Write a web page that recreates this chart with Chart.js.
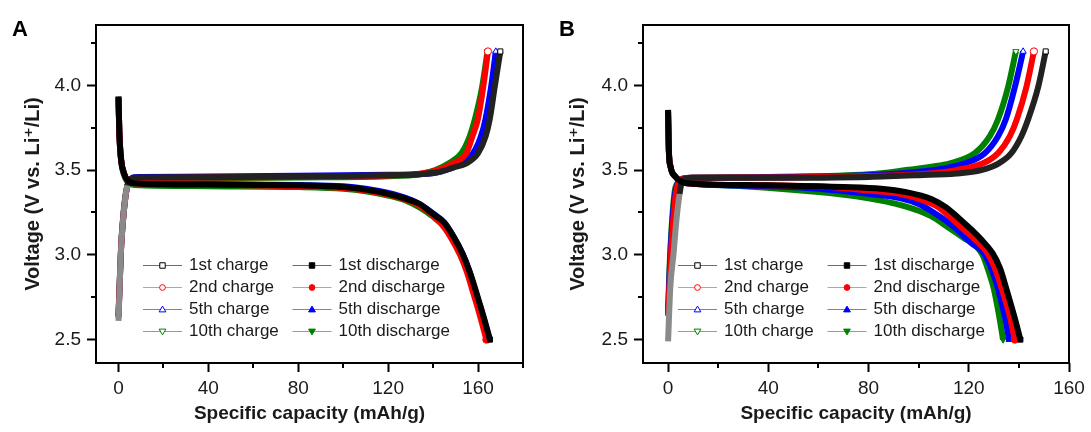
<!DOCTYPE html>
<html>
<head>
<meta charset="utf-8">
<title>Charge / discharge curves</title>
<script src="https://cdn.jsdelivr.net/npm/chart.js@4.4.1/dist/chart.umd.min.js"></script>
<style>
  html, body { margin: 0; padding: 0; background: #fff; }
  #wrap { display: flex; width: 1091px; height: 432px; }
  canvas { display: block; }
</style>
</head>
<body>
<div id="wrap">
  <canvas id="chartA" width="545" height="432"></canvas>
  <canvas id="chartB" width="546" height="432"></canvas>
</div>
<script>
// ---- data: capacity (mAh/g) and voltage (V) ----
const cycleNames = ['1st', '2nd', '5th', '10th']

// panel A
const capA_c1 = [0, 0.5, 1, 2, 3, 4, 5, 7, 10, 40, 80, 100, 120, 134, 143, 149, 154.8, 160, 163.4, 165.2, 167.4, 169.9]
const voltA_c1 = [2.61, 2.8, 3.0, 3.2, 3.33, 3.41, 3.44, 3.455, 3.456, 3.458, 3.462, 3.465, 3.47, 3.475, 3.49, 3.515, 3.54, 3.6, 3.7, 3.8, 3.99, 4.2]
const capA_c2 = [0, 0.6, 1.2, 2, 3, 4, 5, 7, 10, 40, 80, 120, 134, 142, 148.9, 154.8, 157.5, 159.9, 162.3, 164.4]
const voltA_c2 = [2.64, 2.85, 3.05, 3.2, 3.33, 3.41, 3.44, 3.452, 3.454, 3.456, 3.46, 3.468, 3.478, 3.5, 3.54, 3.6, 3.7, 3.8, 3.99, 4.2]
const capA_c5 = [0, 0.6, 1.2, 2, 3, 4, 5, 7, 10, 40, 80, 120, 134, 143, 152.6, 157.8, 161.3, 163.3, 165.8, 167.9]
const voltA_c5 = [2.63, 2.85, 3.05, 3.2, 3.33, 3.41, 3.44, 3.458, 3.46, 3.462, 3.466, 3.472, 3.476, 3.49, 3.54, 3.6, 3.7, 3.8, 3.99, 4.2]
const capA_c10 = [0, 0.6, 1.2, 2, 3, 4, 5, 7, 10, 40, 80, 120, 134, 141, 147, 152.6, 156.3, 158.6, 161.8, 164.2]
const voltA_c10 = [2.64, 2.86, 3.06, 3.21, 3.34, 3.41, 3.435, 3.448, 3.45, 3.452, 3.456, 3.464, 3.476, 3.5, 3.54, 3.6, 3.7, 3.8, 3.99, 4.2]

const capA_d1 = [0, 0.4, 1.2, 2.5, 4, 6, 10, 40, 80, 100, 110, 120, 128, 134, 140, 145, 149, 153, 156, 158.5, 161, 163, 165.3]
const voltA_d1 = [3.935, 3.72, 3.56, 3.48, 3.44, 3.425, 3.42, 3.415, 3.41, 3.4, 3.385, 3.36, 3.33, 3.3, 3.24, 3.19, 3.11, 3.01, 2.91, 2.81, 2.7, 2.61, 2.5]
const capA_d2 = [0, 0.4, 1.2, 2.5, 4, 6, 10, 40, 80, 100, 110, 120, 128, 134, 140, 144.5, 148, 152, 155, 157.3, 159.8, 161.7, 163.7]
const voltA_d2 = [3.93, 3.72, 3.56, 3.48, 3.44, 3.425, 3.42, 3.415, 3.405, 3.395, 3.38, 3.355, 3.325, 3.29, 3.23, 3.17, 3.1, 3.0, 2.9, 2.8, 2.69, 2.6, 2.5]
const capA_d5 = [0, 0.4, 1.2, 2.5, 4, 6, 10, 40, 80, 100, 110, 120, 128, 134, 140, 145, 149, 153, 156, 158.3, 160.8, 162.8, 165]
const voltA_d5 = [3.93, 3.72, 3.56, 3.48, 3.44, 3.428, 3.422, 3.418, 3.412, 3.405, 3.39, 3.365, 3.335, 3.3, 3.245, 3.19, 3.11, 3.01, 2.91, 2.81, 2.7, 2.61, 2.5]
const capA_d10 = [0, 0.4, 1.2, 2.5, 4, 6, 10, 40, 80, 100, 110, 120, 128, 134, 140, 145, 149, 153, 156, 158.5, 161, 163, 164.6]
const voltA_d10 = [3.92, 3.71, 3.55, 3.47, 3.43, 3.415, 3.41, 3.405, 3.4, 3.39, 3.375, 3.35, 3.32, 3.28, 3.225, 3.165, 3.085, 2.99, 2.89, 2.79, 2.68, 2.59, 2.5]

// panel B
const capB_c1 = [0, 0.9, 2.2, 3.3, 4.6, 5.5, 7, 10, 40, 80, 100, 115, 125, 132, 137, 141, 143.7, 147.7, 150.7]
const voltB_c1 = [2.49, 2.81, 3.01, 3.2, 3.36, 3.43, 3.45, 3.455, 3.455, 3.46, 3.47, 3.48, 3.5, 3.54, 3.6, 3.7, 3.8, 3.99, 4.2]
const capB_c2 = [0, 0.8, 1.8, 3, 4, 6, 10, 40, 80, 100, 115, 125.7, 131.7, 136.4, 139.2, 143, 146]
const voltB_c2 = [2.64, 2.9, 3.15, 3.35, 3.42, 3.45, 3.455, 3.456, 3.465, 3.475, 3.5, 3.54, 3.6, 3.7, 3.8, 3.99, 4.2]
const capB_c5 = [0, 0.7, 1.6, 2.8, 3.8, 6, 10, 40, 80, 100, 110, 118.5, 126.4, 131.7, 134.8, 138.4, 141.7]
const voltB_c5 = [2.65, 2.92, 3.17, 3.36, 3.42, 3.45, 3.455, 3.458, 3.47, 3.49, 3.51, 3.54, 3.6, 3.7, 3.8, 3.99, 4.2]
const capB_c10 = [0, 0.6, 1.5, 2.6, 3.6, 6, 10, 40, 80, 95, 105, 112.5, 122.4, 128.4, 131.7, 135.7, 138.8]
const voltB_c10 = [2.66, 2.93, 3.18, 3.37, 3.42, 3.45, 3.455, 3.46, 3.475, 3.5, 3.52, 3.54, 3.6, 3.7, 3.8, 3.99, 4.2]

const capB_d1 = [0, 0.3, 1, 3, 5.5, 10, 40, 70, 85, 95, 105, 111, 116.5, 121, 125, 129.5, 132.5, 135, 138.3, 140.6]
const voltB_d1 = [3.855, 3.62, 3.52, 3.46, 3.43, 3.42, 3.41, 3.4, 3.39, 3.37, 3.33, 3.28, 3.21, 3.15, 3.09, 3.01, 2.92, 2.8, 2.63, 2.5]
const capB_d2 = [0, 0.3, 1, 3, 5.5, 10, 40, 65, 80, 92.5, 102, 108, 113.5, 118, 122.5, 127.5, 130.5, 133, 136.5, 138.4]
const voltB_d2 = [3.85, 3.62, 3.52, 3.46, 3.43, 3.42, 3.41, 3.4, 3.38, 3.36, 3.32, 3.28, 3.21, 3.15, 3.09, 3.01, 2.92, 2.81, 2.63, 2.5]
const capB_d5 = [0, 0.3, 1, 3, 5.5, 10, 40, 60, 80, 92.5, 100, 106, 111, 116, 121, 126, 129, 131.5, 134.5, 136.1]
const voltB_d5 = [3.85, 3.62, 3.52, 3.46, 3.43, 3.42, 3.405, 3.39, 3.36, 3.335, 3.3, 3.25, 3.2, 3.14, 3.07, 3.01, 2.92, 2.81, 2.63, 2.5]
const capB_d10 = [0, 0.3, 1, 3, 5.5, 10, 30, 60, 75, 85, 92.5, 100, 106, 112, 118, 123, 125.5, 128, 130, 132, 133.7]
const voltB_d10 = [3.85, 3.62, 3.52, 3.46, 3.43, 3.42, 3.405, 3.37, 3.345, 3.32, 3.295, 3.26, 3.22, 3.16, 3.1, 3.05, 3.0, 2.9, 2.8, 2.65, 2.5]

// ---- styling ----
const cycleColors = ['#000000', '#ff0000', '#0000ff', '#008000']
const legendLineColors = ['rgba(60,60,60,0.75)', 'rgba(235,60,60,0.6)', 'rgba(60,60,235,0.7)', 'rgba(40,140,40,0.65)']
const markerStyles = ['rect', 'circle', 'triangle', 'triangle']
const markerRotations = [0, 0, 0, 180]
const FONT = '"Liberation Sans", Arial, "DejaVu Sans", sans-serif'
const TEXT = '#1a1a1a'

Chart.defaults.font.family = FONT
Chart.defaults.color = TEXT

const isMajorY = v => Math.abs(v * 2 - Math.round(v * 2)) < 1e-9
const isMajorX = v => Math.abs(v % 40) < 1e-9

function pts(xs, ys) {
    return xs.map((x, i) => ({ x, y: ys[i] }))
}

function buildDatasets(charge, discharge) {
    const sets = []
    cycleNames.forEach((name, i) => {
        sets.push({
            label: name + ' charge',
            data: pts(charge[i][0], charge[i][1]),
            kind: 'charge',
            cycle: i,
            borderColor: i === 0 ? '#222' : cycleColors[i],
            // sparse open squares make the first-charge rise look gray
            segment: i === 0 ? { borderColor: c => (c.p1.parsed.y < 3.42 ? '#8a8a8a' : undefined) } : undefined,
            pointBackgroundColor: '#fff',
            pointBorderColor: cycleColors[i],
            order: i * 2 + 1,
        })
    })
    cycleNames.forEach((name, i) => {
        sets.push({
            label: name + ' discharge',
            data: pts(discharge[i][0], discharge[i][1]),
            kind: 'discharge',
            cycle: i,
            borderColor: cycleColors[i],
            pointBackgroundColor: cycleColors[i],
            pointBorderColor: cycleColors[i],
            order: i * 2,
        })
    })
    sets.forEach(s => {
        s.borderWidth = 6
        s.fill = false
        s.cubicInterpolationMode = 'monotone'
        s.pointStyle = markerStyles[s.cycle]
        s.pointRotation = markerRotations[s.cycle]
        s.pointBorderWidth = 1
        s.pointRadius = c => (c.dataIndex === c.dataset.data.length - 1 ? 3.6 : 0)
    })
    return sets
}

function drawMarker(ctx, i, filled, x, y) {
    const r = 3.4
    ctx.beginPath()
    if (markerStyles[i] === 'rect') ctx.rect(x - r * 0.8, y - r * 0.8, r * 1.6, r * 1.6)
    else if (markerStyles[i] === 'circle') ctx.arc(x, y, r * 0.85, 0, Math.PI * 2)
    else {
        const s = markerRotations[i] ? -1 : 1
        ctx.moveTo(x, y - s * r)
        ctx.lineTo(x + r, y + s * r * 0.7)
        ctx.lineTo(x - r, y + s * r * 0.7)
        ctx.closePath()
    }
    ctx.fillStyle = filled ? cycleColors[i] : '#fff'
    ctx.fill()
    ctx.lineWidth = 1
    ctx.strokeStyle = cycleColors[i]
    ctx.stroke()
}

// frame, minor ticks, panel letter and the two-column legend
const panelDecor = {
    id: 'panelDecor',
    afterDraw(chart, args, opts) {
        const { ctx, chartArea: a, scales } = chart
        ctx.save()
        ctx.strokeStyle = '#000'
        ctx.lineWidth = 2
        ctx.beginPath()
        scales.x.ticks.forEach(t => {
            if (isMajorX(t.value)) return
            const px = Math.round(scales.x.getPixelForValue(t.value))
            ctx.moveTo(px, a.bottom)
            ctx.lineTo(px, a.bottom + 5)
        })
        scales.y.ticks.forEach(t => {
            if (isMajorY(t.value)) return
            const py = Math.round(scales.y.getPixelForValue(t.value))
            ctx.moveTo(a.left, py)
            ctx.lineTo(a.left - 5, py)
        })
        ctx.stroke()
        ctx.strokeRect(a.left, a.top, a.right - a.left, a.bottom - a.top)

        ctx.fillStyle = '#000'
        ctx.font = 'bold 22px ' + FONT
        ctx.textBaseline = 'alphabetic'
        ctx.fillText(opts.letter, opts.letterX, 36)

        // legend
        ctx.font = '17px ' + FONT
        ctx.textBaseline = 'middle'
        chart.data.datasets.forEach(ds => {
            const col = ds.kind === 'charge' ? 0 : 1
            const x0 = a.left + opts.legendX + col * 149.5
            const y = Math.round(a.top + 240 + ds.cycle * 21.9) + 0.5
            ctx.strokeStyle = legendLineColors[ds.cycle]
            ctx.lineWidth = 1
            ctx.beginPath()
            ctx.moveTo(x0, y)
            ctx.lineTo(x0 + 39, y)
            ctx.stroke()
            drawMarker(ctx, ds.cycle, ds.kind === 'discharge', x0 + 19.5, y)
            ctx.fillStyle = TEXT
            ctx.fillText(ds.label, x0 + 46, y)
        })
        ctx.restore()
    },
}

function makePanel(id, letter, xMax, axisWidth, legendX, charge, discharge) {
    return new Chart(id, {
        type: 'line',
        data: { datasets: buildDatasets(charge, discharge) },
        plugins: [panelDecor],
        options: {
            responsive: false,
            animation: false,
            devicePixelRatio: 1,
            layout: { padding: { left: 0, right: 22, top: 25, bottom: 0 } },
            plugins: {
                legend: { display: false },
                tooltip: { enabled: false },
                panelDecor: { letter, letterX: letter === 'A' ? 12 : 14, legendX },
            },
            scales: {
                x: {
                    type: 'linear',
                    min: -10,
                    max: xMax,
                    afterFit: s => { s.height = 69 },
                    border: { display: false },
                    grid: {
                        drawOnChartArea: false,
                        tickLength: 9,
                        tickWidth: 2,
                        tickColor: c => (isMajorX(c.tick.value) ? '#000' : 'rgba(0,0,0,0)'),
                    },
                    ticks: {
                        stepSize: 20,
                        includeBounds: false,
                        autoSkip: false,
                        maxRotation: 0,
                        padding: 5,
                        color: TEXT,
                        font: { size: 19 },
                        callback: v => (isMajorX(v) ? String(v) : ''),
                    },
                    title: {
                        display: true,
                        text: 'Specific capacity (mAh/g)',
                        color: TEXT,
                        font: { size: 19, weight: 'bold' },
                        padding: { top: 0, bottom: 7 },
                    },
                },
                y: {
                    type: 'linear',
                    min: 2.362,
                    max: 4.356,
                    afterFit: s => { s.width = axisWidth },
                    border: { display: false },
                    grid: {
                        drawOnChartArea: false,
                        tickLength: 9,
                        tickWidth: 2,
                        tickColor: c => (isMajorY(c.tick.value) ? '#000' : 'rgba(0,0,0,0)'),
                    },
                    ticks: {
                        stepSize: 0.25,
                        includeBounds: false,
                        autoSkip: false,
                        padding: 6,
                        color: TEXT,
                        font: { size: 19 },
                        callback: v => (isMajorY(v) ? v.toFixed(1) : ''),
                    },
                    title: {
                        display: true,
                        text: 'Voltage (V vs. Li\u207A/Li)',
                        color: TEXT,
                        font: { size: 20, weight: 'bold' },
                        padding: { top: 21, bottom: 0 },
                    },
                },
            },
        },
    })
}

makePanel('chartA', 'A', 180, 96, 47,
    [[capA_c1, voltA_c1], [capA_c2, voltA_c2], [capA_c5, voltA_c5], [capA_c10, voltA_c10]],
    [[capA_d1, voltA_d1], [capA_d2, voltA_d2], [capA_d5, voltA_d5], [capA_d10, voltA_d10]])

makePanel('chartB', 'B', 160, 98, 35,
    [[capB_c1, voltB_c1], [capB_c2, voltB_c2], [capB_c5, voltB_c5], [capB_c10, voltB_c10]],
    [[capB_d1, voltB_d1], [capB_d2, voltB_d2], [capB_d5, voltB_d5], [capB_d10, voltB_d10]])
</script>
</body>
</html>
